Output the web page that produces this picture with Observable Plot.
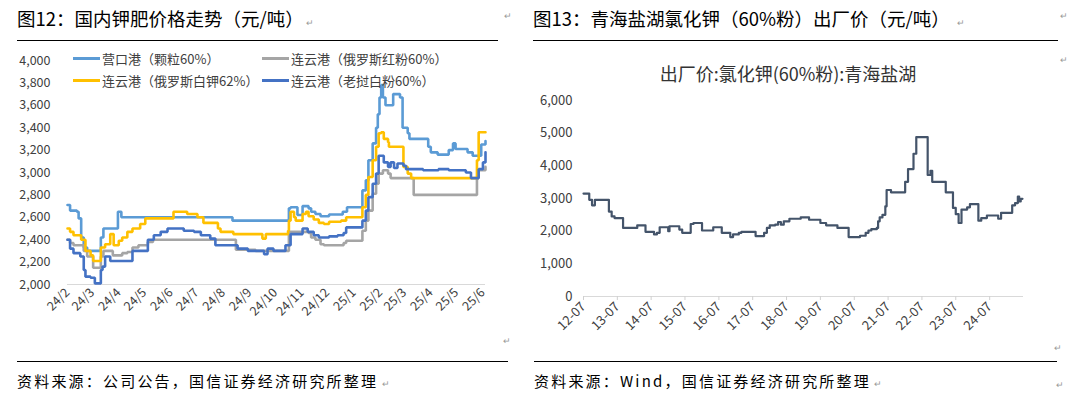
<!DOCTYPE html>
<html><head><meta charset="utf-8">
<script src="https://cdn.jsdelivr.net/npm/d3@7"></script>
<script src="https://cdn.jsdelivr.net/npm/@observablehq/plot@0.6"></script>
<style>
html,body{margin:0;padding:0;background:#fff;}
body{width:1076px;height:399px;overflow:hidden;position:relative;font-family:"Noto Sans CJK SC","Noto Sans",sans-serif;}
.abs{position:absolute;white-space:nowrap;line-height:1;}
.title{font-size:18.5px;color:#000;}
.rule{position:absolute;height:0;border-top:1.5px solid #000;}
.src{font-size:15px;color:#000;letter-spacing:2.2px;}
.pm{font-size:9px;color:#999;}
.leg{font-size:13px;color:#404040;display:flex;align-items:center;}
.sw{display:inline-block;width:27px;height:3px;margin-right:2px;}
.ctitle{font-size:18px;color:#333;}
#left{position:absolute;left:0;top:45px;}
#right{position:absolute;left:520px;top:45px;}
</style></head><body>
<div class="abs title" style="left:17px;top:9px">图12：国内钾肥价格走势（元/吨）</div>
<div class="abs title" style="left:533px;top:9px">图13：青海盐湖氯化钾（60%粉）出厂价（元/吨）</div>
<div class="rule" style="left:17px;top:40px;width:481px"></div>
<div class="rule" style="left:533px;top:40px;width:525px"></div>
<div class="rule" style="left:17px;top:361px;width:491px"></div>
<div class="rule" style="left:534px;top:361px;width:523px"></div>
<div class="abs src" style="left:17px;top:373px">资料来源：公司公告，国信证券经济研究所整理</div>
<div class="abs src" style="left:534px;top:373px">资料来源：Wind，国信证券经济研究所整理</div>
<div id="left"></div>
<div id="right"></div>
<div class="abs ctitle" id="ctitle" style="left:788px;top:64px;transform:translateX(-50%)">出厂价:氯化钾(60%粉):青海盐湖</div>
<div id="legend"></div>
<div class="abs pm" style="left:306px;top:18px">↵</div>
<div class="abs pm" style="left:504px;top:11px">↵</div>
<div class="abs pm" style="left:957px;top:18px">↵</div>
<div class="abs pm" style="left:1060px;top:11px">↵</div>
<div class="abs pm" style="left:1060px;top:55px">↵</div>
<div class="abs pm" style="left:503px;top:336px">↵</div>
<div class="abs pm" style="left:1054px;top:343px">↵</div>
<div class="abs pm" style="left:382px;top:379px">↵</div>
<div class="abs pm" style="left:874px;top:379px">↵</div>
<div class="abs pm" style="left:1056px;top:380px">↵</div>
<script>
// ---------- Left chart data (国内钾肥价格, 元/吨) ----------
const leftNames = ["营口港（颗粒60%）","连云港（俄罗斯红粉60%）","连云港（俄罗斯白钾62%）","连云港（老挝白粉60%）"];
const leftColors = ["#5B9BD5","#A5A5A5","#FFC000","#4472C4"];
const yingkou = [["2024-02-01",2710],["2024-02-04",2660],["2024-02-12",2650],["2024-02-14",2590],["2024-02-17",2420],["2024-02-20",2330],["2024-02-24",2300],["2024-03-11",2420],["2024-03-14",2500],["2024-03-31",2650],["2024-04-04",2600],["2024-08-12",2570],["2024-10-17",2680],["2024-10-19",2690],["2024-10-27",2620],["2024-11-02",2700],["2024-11-09",2680],["2024-11-12",2650],["2024-11-17",2630],["2024-11-23",2610],["2024-12-03",2625],["2024-12-19",2650],["2024-12-24",2690],["2025-01-11",2840],["2025-01-15",2930],["2025-01-18",3110],["2025-01-23",3260],["2025-01-27",3400],["2025-01-29",3520],["2025-01-31",3670],["2025-02-02",3780],["2025-02-04",3670],["2025-02-07",3600],["2025-02-16",3700],["2025-02-24",3670],["2025-02-27",3400],["2025-03-05",3350],["2025-03-07",3300],["2025-03-29",3230],["2025-04-01",3180],["2025-04-09",3160],["2025-04-22",3200],["2025-04-27",3260],["2025-04-30",3210],["2025-05-14",3180],["2025-05-20",3150],["2025-05-30",3250],["2025-06-04",3280]];
const hongfen = [["2024-02-01",2400],["2024-02-04",2370],["2024-02-08",2350],["2024-02-20",2300],["2024-02-24",2250],["2024-03-02",2150],["2024-03-11",2250],["2024-03-14",2300],["2024-03-25",2260],["2024-04-05",2280],["2024-04-11",2290],["2024-04-17",2330],["2024-04-24",2350],["2024-05-05",2380],["2024-05-11",2400],["2024-08-16",2310],["2024-09-08",2300],["2024-10-17",2470],["2024-11-09",2460],["2024-11-12",2420],["2024-11-17",2400],["2024-11-23",2360],["2024-11-27",2350],["2024-12-20",2370],["2024-12-23",2390],["2025-01-11",2480],["2025-01-15",2570],["2025-01-18",2660],["2025-01-23",2810],["2025-01-27",2900],["2025-01-30",2990],["2025-02-04",3020],["2025-02-10",2990],["2025-02-13",2950],["2025-03-12",2800],["2025-05-25",2950],["2025-05-27",3020],["2025-06-04",3050]];
const baijia = [["2024-02-01",2500],["2024-02-04",2470],["2024-02-08",2440],["2024-02-17",2400],["2024-02-22",2300],["2024-02-28",2260],["2024-03-02",2210],["2024-03-11",2330],["2024-03-16",2360],["2024-03-22",2450],["2024-03-26",2350],["2024-04-01",2390],["2024-04-05",2420],["2024-04-11",2470],["2024-04-17",2500],["2024-04-26",2540],["2024-05-02",2590],["2024-06-04",2650],["2024-06-20",2630],["2024-07-02",2600],["2024-07-09",2550],["2024-07-26",2500],["2024-07-29",2470],["2024-08-13",2450],["2024-09-16",2410],["2024-09-20",2450],["2024-10-16",2480],["2024-10-17",2570],["2024-10-19",2650],["2024-10-23",2600],["2024-10-25",2570],["2024-11-02",2630],["2024-11-06",2650],["2024-11-09",2610],["2024-11-15",2580],["2024-11-21",2550],["2024-11-27",2540],["2024-12-03",2560],["2024-12-17",2570],["2024-12-23",2600],["2025-01-11",2690],["2025-01-15",2800],["2025-01-18",2960],["2025-01-23",3110],["2025-01-27",3230],["2025-01-30",3350],["2025-02-02",3360],["2025-02-05",3300],["2025-02-10",3270],["2025-02-11",3230],["2025-02-28",3050],["2025-03-05",2990],["2025-03-09",2950],["2025-05-25",3110],["2025-05-27",3360],["2025-06-04",3360]];
const laowo = [["2024-02-01",2400],["2024-02-04",2320],["2024-02-08",2280],["2024-02-16",2250],["2024-02-20",2130],["2024-02-22",2070],["2024-02-28",2060],["2024-03-04",2010],["2024-03-11",2130],["2024-03-13",2160],["2024-03-16",2250],["2024-03-22",2210],["2024-04-17",2300],["2024-05-05",2400],["2024-05-12",2440],["2024-05-20",2470],["2024-05-28",2500],["2024-06-16",2480],["2024-06-28",2470],["2024-07-06",2440],["2024-07-17",2410],["2024-07-23",2350],["2024-08-18",2320],["2024-08-30",2300],["2024-09-18",2270],["2024-09-22",2320],["2024-09-29",2300],["2024-10-13",2350],["2024-10-19",2450],["2024-11-02",2500],["2024-11-08",2470],["2024-11-15",2440],["2024-11-21",2420],["2024-12-03",2430],["2024-12-13",2440],["2024-12-20",2460],["2024-12-23",2510],["2025-01-11",2570],["2025-01-15",2660],["2025-01-18",2780],["2025-01-23",2900],["2025-01-27",2990],["2025-01-30",3150],["2025-02-05",3090],["2025-02-10",3050],["2025-02-13",3090],["2025-02-17",3040],["2025-02-21",3080],["2025-02-28",3060],["2025-03-03",3030],["2025-03-23",3020],["2025-04-10",3030],["2025-04-22",3020],["2025-05-12",3000],["2025-05-18",2950],["2025-05-27",3030],["2025-06-01",3090],["2025-06-04",3180]];
const leftYTicks = [2000,2200,2400,2600,2800,3000,3200,3400,3600,3800,4000];
const leftXTicks = ["2024-02-01","2024-03-01","2024-04-01","2024-05-01","2024-06-01","2024-07-01","2024-08-01","2024-09-01","2024-10-01","2024-11-01","2024-12-01","2025-01-01","2025-02-01","2025-03-01","2025-04-01","2025-05-01","2025-06-01"];
const leftXLabels = ["24/2","24/3","24/4","24/5","24/6","24/7","24/8","24/9","24/10","24/11","24/12","25/1","25/2","25/3","25/4","25/5","25/6"];

// ---------- Right chart data (青海盐湖 氯化钾60%粉 出厂价) ----------
const rightSeries = [["2012-07-01",3150],["2012-09-01",2960],["2012-10-01",2790],["2012-11-01",2960],["2013-04-01",2600],["2013-05-01",2450],["2013-06-01",2400],["2013-09-01",2100],["2014-02-01",2180],["2014-05-01",1980],["2014-08-01",1900],["2014-09-01",1950],["2014-10-01",2120],["2015-01-01",2000],["2015-01-15",2150],["2015-05-01",2050],["2015-06-01",1950],["2015-09-01",2220],["2015-10-01",2250],["2016-01-01",2020],["2016-05-01",2120],["2016-08-01",1950],["2016-11-01",1820],["2016-12-01",1900],["2017-02-01",1950],["2017-03-01",1980],["2017-08-01",1850],["2017-11-01",1950],["2017-12-01",2100],["2018-01-01",2180],["2018-03-01",2200],["2018-04-01",2280],["2018-05-01",2200],["2018-06-01",2300],["2018-08-01",2380],["2018-12-01",2420],["2019-03-01",2350],["2019-07-01",2250],["2019-09-01",2180],["2020-01-01",2100],["2020-05-01",1820],["2020-09-01",1860],["2020-11-01",1950],["2020-12-01",2020],["2021-01-01",2060],["2021-03-01",2100],["2021-03-15",2300],["2021-04-01",2420],["2021-05-01",2500],["2021-06-01",2760],["2021-06-15",3260],["2021-08-01",3190],["2022-01-01",3510],["2022-02-01",3900],["2022-04-01",4370],["2022-05-01",4880],["2022-09-01",3720],["2022-10-01",3850],["2022-10-20",3510],["2023-03-15",3190],["2023-06-01",2710],["2023-07-01",2520],["2023-08-01",2250],["2023-09-01",2660],["2023-11-01",2730],["2023-12-01",2830],["2024-03-01",2320],["2024-04-01",2400],["2024-06-01",2480],["2024-10-01",2380],["2024-11-01",2560],["2025-03-01",2790],["2025-04-01",2860],["2025-05-01",3060],["2025-05-15",2910],["2025-06-01",2990],["2025-06-20",2990]];
const rightYTicks = [0,1000,2000,3000,4000,5000,6000];
const rightXTicks = ["2012-07-01","2013-07-01","2014-07-01","2015-07-01","2016-07-01","2017-07-01","2018-07-01","2019-07-01","2020-07-01","2021-07-01","2022-07-01","2023-07-01","2024-07-01"];
const rightXLabels = ["12-07","13-07","14-07","15-07","16-07","17-07","18-07","19-07","20-07","21-07","22-07","23-07","24-07"];

const FONT = '"Noto Sans CJK SC","Noto Sans",sans-serif';
const fmt = d3.format(",");
const toRows = (arr) => arr.map(([d, v]) => ({date: new Date(d), value: v}));
const leftAll = [yingkou, hongfen, baijia, laowo];

// ---- Left plot ----
const lTickDates = leftXTicks.map(d => +new Date(d));
const left = Plot.plot({
  width: 510, height: 300,
  marginLeft: 67, marginRight: 25, marginTop: 15, marginBottom: 61,
  x: {type: "utc", domain: [new Date("2024-02-01"), new Date("2025-06-04")]},
  y: {domain: [2000, 4000]},
  style: {fontFamily: FONT, fontSize: "12.5px", color: "#404040", background: "transparent"},
  marks: [
    Plot.ruleY([2000], {stroke: "#d9d9d9", strokeWidth: 1}),
    Plot.axisY({ticks: leftYTicks, tickSize: 0, tickPadding: 17, tickFormat: fmt, label: null}),
    Plot.axisX({ticks: leftXTicks.map(d => new Date(d)), tickSize: 0, tickPadding: 6, tickRotate: -45, label: null,
      tickFormat: d => leftXLabels[lTickDates.indexOf(+d)]}),
    ...leftAll.map((s, i) => Plot.line(toRows(s), {x: "date", y: "value", curve: "step-after",
      stroke: leftColors[i], strokeWidth: 2.6, strokeLinejoin: "miter"}))
  ]
});
document.getElementById("left").appendChild(left);

// ---- Right plot ----
const rTickDates = rightXTicks.map(d => +new Date(d));
const right = Plot.plot({
  width: 556, height: 300,
  marginLeft: 63, marginRight: 53, marginTop: 55, marginBottom: 49,
  x: {type: "utc", domain: [new Date("2012-07-01"), new Date("2025-07-01")]},
  y: {domain: [0, 6000]},
  style: {fontFamily: FONT, fontSize: "13px", color: "#404040", background: "transparent"},
  marks: [
    Plot.ruleY([0], {stroke: "#d9d9d9", strokeWidth: 1}),
    Plot.axisY({ticks: rightYTicks, tickSize: 0, tickPadding: 11, tickFormat: fmt, label: null}),
    Plot.axisX({ticks: rightXTicks.map(d => new Date(d)), tickSize: 4, stroke: "#d0d0d0", tickPadding: 4, tickRotate: -45, label: null,
      tickFormat: d => rightXLabels[rTickDates.indexOf(+d)]}),
    Plot.line(toRows(rightSeries), {x: "date", y: "value", curve: "step-after",
      stroke: "#44546A", strokeWidth: 2.2})
  ]
});
document.getElementById("right").appendChild(right);

// ---- Legend (left chart) ----
const legPos = [[73, 52], [262, 52], [73, 74], [262, 74]];
const legend = document.getElementById("legend");
leftNames.forEach((n, i) => {
  const el = document.createElement("div");
  el.className = "abs leg";
  el.style.left = legPos[i][0] + "px";
  el.style.top = legPos[i][1] + "px";
  el.innerHTML = `<span class="sw" style="background:${leftColors[i]}"></span><span>${n}</span>`;
  legend.appendChild(el);
});
</script>
</body></html>
